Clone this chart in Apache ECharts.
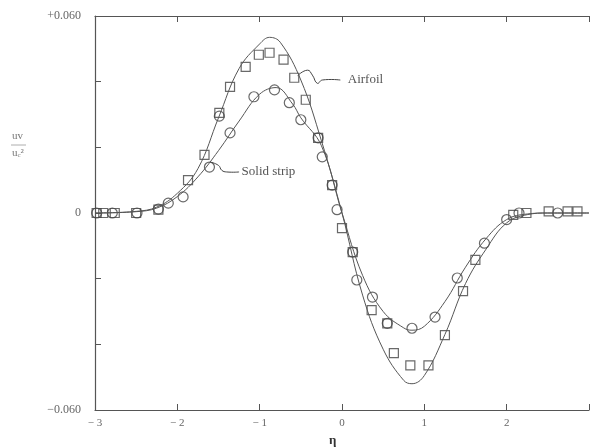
<!DOCTYPE html>
<html>
<head>
<meta charset="utf-8">
<script src="https://cdn.jsdelivr.net/npm/echarts@6/dist/echarts.min.js"></script>
<style>
  html, body { margin: 0; padding: 0; background: #fff; }
  #chart { width: 592px; height: 448px; }
</style>
</head>
<body>
<div id="chart"></div>
<script>
// curves: [eta, value]
const airfoilCurve = [
  [-3, 0], [-2.5, 0.0005], [-2.25, 0.0018], [-2, 0.006], [-1.75, 0.0135],
  [-1.5, 0.029], [-1.25, 0.044], [-1.0, 0.0515], [-0.88, 0.0535], [-0.75, 0.052],
  [-0.5, 0.0405], [-0.25, 0.022], [0, 0], [0.25, -0.025], [0.5, -0.0415],
  [0.75, -0.051], [0.85, -0.052], [1.0, -0.0495], [1.25, -0.037], [1.5, -0.0215],
  [1.75, -0.011], [2.0, -0.003], [2.25, -0.0005], [2.5, 0], [3, 0]
];
const stripCurve = [
  [-3, 0], [-2.5, 0.0004], [-2.25, 0.0015], [-2, 0.005], [-1.75, 0.011],
  [-1.5, 0.019], [-1.25, 0.028], [-1.0, 0.0362], [-0.8, 0.0382], [-0.6, 0.0332],
  [-0.5, 0.029], [-0.25, 0.0205], [0, 0], [0.25, -0.019], [0.5, -0.030],
  [0.75, -0.035], [0.85, -0.0357], [1.0, -0.0345], [1.25, -0.027], [1.5, -0.0165],
  [1.75, -0.0078], [2.0, -0.002], [2.25, -0.0003], [2.5, 0], [3, 0]
];
// measured points
const airfoilPts = [
  [-2.98, 0], [-2.9, 0], [-2.76, 0], [-2.5, 0], [-2.23, 0.001], [-1.87, 0.010],
  [-1.67, 0.0177], [-1.49, 0.0305], [-1.36, 0.0384], [-1.17, 0.0445], [-1.01, 0.0482],
  [-0.88, 0.0488], [-0.71, 0.0467], [-0.58, 0.0412], [-0.44, 0.0345], [-0.29, 0.0229],
  [-0.12, 0.0085], [0, -0.0046], [0.13, -0.0119], [0.36, -0.0296], [0.55, -0.0336],
  [0.63, -0.0427], [0.83, -0.0464], [1.05, -0.0464], [1.25, -0.0372], [1.47, -0.0238],
  [1.62, -0.0143], [2.08, -0.0006], [2.24, 0], [2.51, 0.0005], [2.74, 0.0005], [2.86, 0.0005]
];
const stripPts = [
  [-2.98, 0], [-2.79, 0], [-2.49, 0], [-2.23, 0.0012], [-2.11, 0.003], [-1.93, 0.0049],
  [-1.61, 0.014], [-1.49, 0.0295], [-1.36, 0.0244], [-1.07, 0.0354], [-0.82, 0.0375],
  [-0.64, 0.0336], [-0.5, 0.0284], [-0.29, 0.0229], [-0.24, 0.0171], [-0.12, 0.0085],
  [-0.06, 0.001], [0.13, -0.0119], [0.18, -0.0204], [0.37, -0.0256], [0.55, -0.0336],
  [0.85, -0.0351], [1.13, -0.0317], [1.40, -0.0198], [1.73, -0.0092], [2.0, -0.002],
  [2.15, 0], [2.62, 0]
];
const xTicks = [-3, -2, -1, 0, 1, 2];
const yLabels = { '0.06': '+0.060', '0': '0', '-0.06': '\u22120.060' };

const ink = '#555';
const font = 'Liberation Serif';

const chart = echarts.init(document.getElementById('chart'));

const pointStyle = { color: 'transparent', borderColor: '#444', borderWidth: 1.2 };

chart.setOption({
  animation: false,
  grid: { left: 95, right: -7, top: 16, bottom: 38 },
  xAxis: [
    {
      type: 'value', min: -3, max: 3, interval: 1,
      axisLine: { onZero: false, lineStyle: { color: ink, width: 1.2 } },
      axisTick: { inside: true, length: 6, lineStyle: { color: ink } },
      splitLine: { show: false },
      axisLabel: {
        color: '#666', fontFamily: font, fontSize: 11, margin: 8,
        formatter: v => xTicks.includes(v) ? (v < 0 ? '\u2212 ' + Math.abs(v) : String(v)) : ''
      }
    },
    {
      type: 'value', position: 'top', min: -3, max: 3, interval: 1,
      axisLine: { onZero: false, lineStyle: { color: ink, width: 1.2 } },
      axisTick: { inside: true, length: 6, lineStyle: { color: ink } },
      axisLabel: { show: false },
      splitLine: { show: false }
    }
  ],
  yAxis: {
    type: 'value', min: -0.06, max: 0.06, interval: 0.02,
    axisLine: { onZero: false, lineStyle: { color: ink, width: 1.2 } },
    axisTick: { inside: true, length: 6, lineStyle: { color: ink } },
    splitLine: { show: false },
    axisLabel: {
      color: '#666', fontFamily: font, fontSize: 12, margin: 14,
      formatter: v => yLabels[String(Math.round(v * 100) / 100)] || ''
    }
  },
  series: [
    {
      name: 'Airfoil', type: 'line', data: airfoilCurve, smooth: 0.4, showSymbol: false,
      lineStyle: { color: '#555', width: 1 }
    },
    {
      name: 'Solid strip', type: 'line', data: stripCurve, smooth: 0.4, showSymbol: false,
      lineStyle: { color: '#555', width: 1 }
    },
    {
      type: 'scatter', data: airfoilPts, symbol: 'rect', symbolSize: 9, itemStyle: pointStyle
    },
    {
      type: 'scatter', data: stripPts, symbol: 'circle', symbolSize: 10, itemStyle: pointStyle
    }
  ]
});

// labels with wavy leaders, placed in data coordinates
const px = p => chart.convertToPixel({ xAxisIndex: 0, yAxisIndex: 0 }, p);
const leader = pts => ({
  type: 'polyline', silent: true,
  shape: { points: pts.map(px), smooth: 0.5 },
  style: { stroke: '#444', lineWidth: 1, fill: null }
});
const airfoilText = px([0.07, 0.0405]);
const stripText = px([-1.22, 0.0125]);
chart.setOption({
  graphic: [
    leader([[-0.54, 0.0418], [-0.42, 0.0435], [-0.36, 0.042], [-0.3, 0.0395], [-0.24, 0.0405], [-0.02, 0.0405]]),
    leader([[-1.6, 0.0155], [-1.5, 0.0145], [-1.46, 0.013], [-1.4, 0.0125], [-1.25, 0.0125]]),
    {
      type: 'text', x: airfoilText[0], y: airfoilText[1],
      style: { text: 'Airfoil', fill: '#555', font: '13px "Liberation Serif"', verticalAlign: 'middle' }
    },
    {
      type: 'text', x: stripText[0], y: stripText[1],
      style: { text: 'Solid strip', fill: '#555', font: '13px "Liberation Serif"', verticalAlign: 'middle' }
    },
    {
      type: 'text', x: 12, y: 131,
      style: { text: 'uv', fill: '#777', font: '11px "Liberation Serif"' }
    },
    {
      type: 'line', shape: { x1: 11, y1: 145, x2: 26, y2: 145 },
      style: { stroke: '#999', lineWidth: 0.8 }
    },
    {
      type: 'text', x: 12, y: 148,
      style: {
        text: '{n|u}{s|c}{n|\u00b2}', fill: '#777',
        rich: {
          n: { fontFamily: font, fontSize: 11, fill: '#777' },
          s: { fontFamily: font, fontSize: 7, fill: '#777', verticalAlign: 'bottom' }
        }
      }
    },
    {
      type: 'text', x: 329, y: 434,
      style: { text: '\u03b7', fill: '#333', font: 'bold 13px "Liberation Serif"' }
    }
  ]
});
</script>
</body>
</html>
